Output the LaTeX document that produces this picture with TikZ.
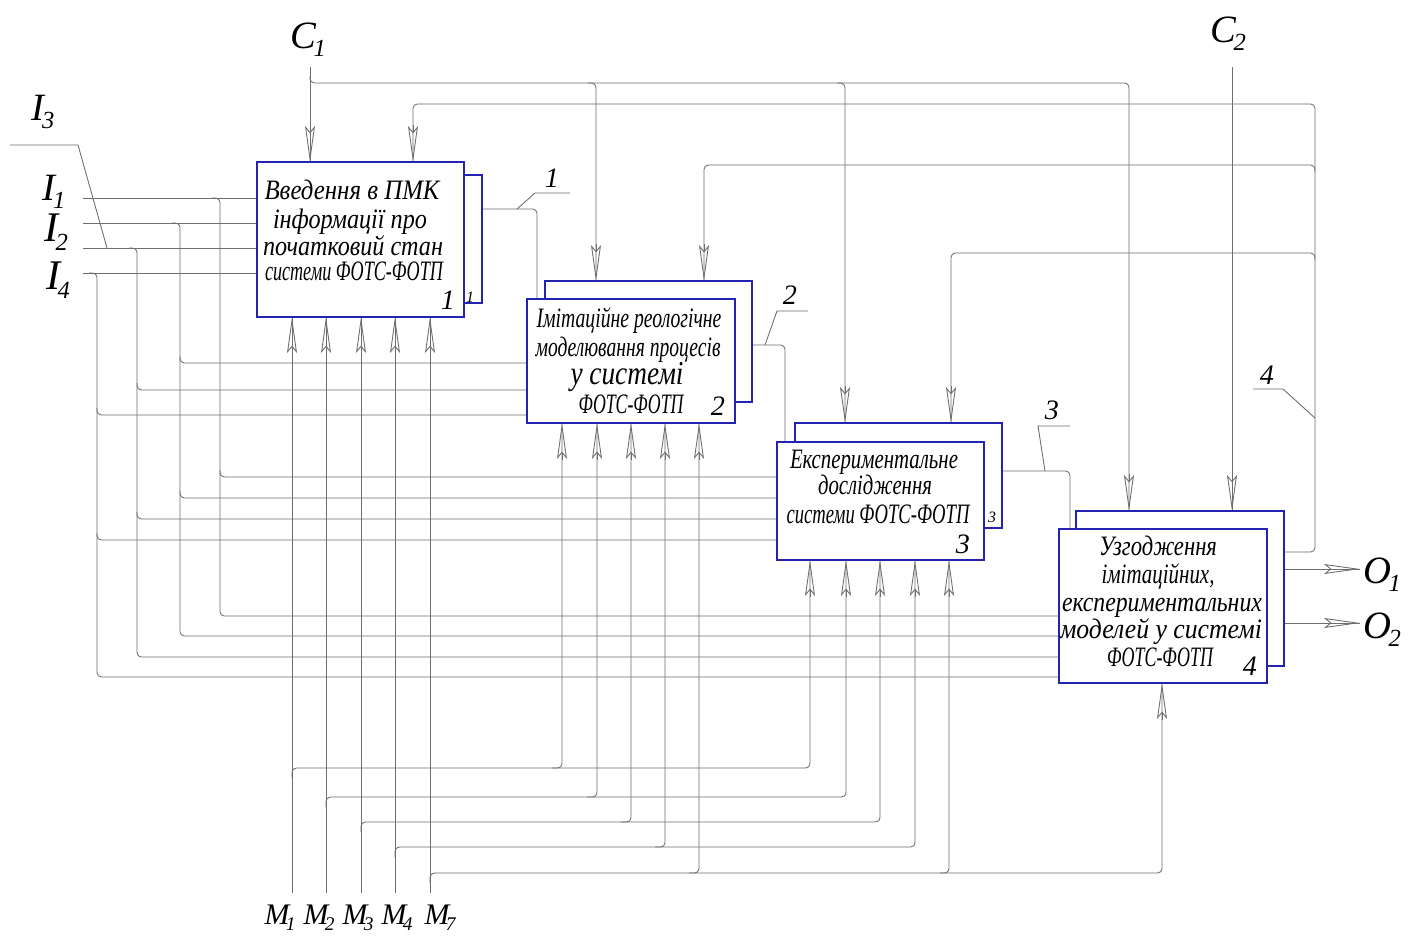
\documentclass[tikz,border=0pt]{standalone}
\usepackage{fontspec}
\setmainfont{Liberation Serif}
\usepackage{graphicx}
\usetikzlibrary{arrows.meta,fit,calc}
\definecolor{boxblue}{RGB}{35,35,175}
\definecolor{wirec}{RGB}{110,110,110}
\newcommand{\sbs}[2]{#1\kern-0.06em\raisebox{-0.45ex}{\fontsize{14}{14}\selectfont #2}}
\newcommand{\sbm}[2]{#1\kern-0.12em\raisebox{-0.45ex}{\fontsize{11}{11}\selectfont #2}}
\newcommand{\fitw}[2]{\resizebox{#1}{\height}{#2}}
\begin{document}
\begin{tikzpicture}[x=0.02cm,y=-0.02cm,
  wire/.style={draw=wirec, line width=0.5pt, rounded corners=2.5pt},
  lead/.style={draw=wirec, line width=0.5pt},
  arr/.style={draw=wirec, line width=0.5pt, -{Stealth[open,length=0.72cm,width=0.2cm,inset=0.12cm]}},
  box/.style={draw=boxblue, line width=1.2pt, fill=white, inner sep=0pt, outer sep=0pt},
  txt/.style={font=\itshape\fontsize{16}{18}\selectfont, anchor=base, inner sep=0pt},
  lbl/.style={font=\itshape\fontsize{22}{24}\selectfont, inner sep=0pt},
  mlbl/.style={font=\itshape\fontsize{17}{18}\selectfont, inner sep=0pt},
  num/.style={font=\itshape\fontsize{16}{17}\selectfont, anchor=base, inner sep=0pt},
  snum/.style={font=\itshape\fontsize{9}{10}\selectfont, anchor=base, inner sep=0pt}]

\fill[white] (0,0) rectangle (1410,944);
\useasboundingbox (0,0) rectangle (1410,944);

% ---------- named points ----------
\coordinate (i1) at (83,198);
\coordinate (i2) at (83,223);
\coordinate (i3) at (83,248);
\coordinate (i4) at (83,273);
\coordinate (c1) at (310,67);
\coordinate (c2) at (1232,67);

% ---------- input lines I ----------
\foreach \n in {1,2,3,4} \draw[wire] (i\n) -- ++(174,0);
% I1 -> boxes 3,4
\draw[wire] (212,198) -- (220,198) -- (220,616) -- (1059,616);
\draw[wire] (220,470) -- (220,477) -- (777,477);
% I2 -> boxes 2,3,4
\draw[wire] (172,223) -- (180,223) -- (180,636) -- (1059,636);
\draw[wire] (180,356) -- (180,363) -- (527,363);
\draw[wire] (180,491) -- (180,498) -- (777,498);
% I3 -> boxes 2,3,4
\draw[wire] (129,248) -- (137,248) -- (137,657) -- (1059,657);
\draw[wire] (137,383) -- (137,390) -- (527,390);
\draw[wire] (137,512) -- (137,519) -- (777,519);
% I4 -> boxes 2,3,4
\draw[wire] (89,273) -- (97,273) -- (97,677) -- (1059,677);
\draw[wire] (97,408) -- (97,415) -- (527,415);
\draw[wire] (97,533) -- (97,540) -- (777,540);

% ---------- controls C ----------
\draw[wire] (c1) -- (310,162);
\draw[wire] (310,76) -- (310,83) -- (1129,83) -- (1129,511);
\draw[wire] (588,83) -- (596,83) -- (596,281);
\draw[wire] (837,83) -- (845,83) -- (845,423);
\draw[wire] (c2) -- (1232,511);

% ---------- feedback from box 4 ----------
\draw[wire] (1284,552) -- (1315,552) -- (1315,104) -- (413,104) -- (413,162);
\draw[wire] (704,281) -- (704,165) -- (1315,165) -- (1315,172);
\draw[wire] (951,423) -- (951,253) -- (1315,253) -- (1315,260);

% ---------- outputs between boxes ----------
\draw[wire] (482,209) -- (537,209) -- (537,299);
\draw[wire] (752,345) -- (785,345) -- (785,442);
\draw[wire] (1002,471) -- (1070,471) -- (1070,529);
\draw[wire] (1284,569) -- (1360,569);
\draw[wire] (1284,623) -- (1360,623);

% ---------- mechanisms M ----------
\foreach \x/\yy/\bx/\by in {292/768/562/810, 326/797/597/846, 361/822/631/880, 395/847/665/915, 430/873/699/949}
{
  \draw[wire] (\x,893) -- (\x,317);
  \draw[wire] (\x,\yy+10) -- (\x,\yy) -- (\by,\yy) -- (\by,560);
  \draw[wire] (\bx-10,\yy) -- (\bx,\yy) -- (\bx,423);
}
\draw[wire] (940,873) -- (1162,873) -- (1162,683);

% ---------- leaders ----------
\draw[lead] (10,145) -- (78,145) -- (107,248);
\draw[lead] (570,193) -- (535,193) -- (517,209);
\draw[lead] (808,311) -- (777,311) -- (765,345);
\draw[lead] (1070,426) -- (1038,426) -- (1045,471);
\draw[lead] (1253,389) -- (1283,389) -- (1315,418);

% ---------- boxes ----------
\node[box, fit={(275,175) (482,303)}] (b1b) {};
\node[box, fit={(257,162) (464,317)}] (b1) {};
\node[box, fit={(545,281) (752,402)}] (b2b) {};
\node[box, fit={(527,299) (735,423)}] (b2) {};
\node[box, fit={(795,423) (1002,528)}] (b3b) {};
\node[box, fit={(777,442) (984,560)}] (b3) {};
\node[box, fit={(1076,511) (1284,666)}] (b4b) {};
\node[box, fit={(1059,529) (1267,683)}] (b4) {};

% ---------- arrowheads ----------
\foreach \x in {292,326,361,395,430} \draw[arr] (\x,354) -- (\x,317);
\foreach \x in {562,597,631,665,699} \draw[arr] (\x,460) -- (\x,423);
\foreach \x in {810,846,880,915,949} \draw[arr] (\x,597) -- (\x,560);
\draw[arr] (1162,720) -- (1162,683);
\foreach \x/\y in {310/162,413/162,596/281,704/281,845/423,951/423,1129/511,1232/511}
  \draw[arr] (\x,\y-37) -- (\x,\y);
\draw[arr] (1322,569) -- (1360,569);
\draw[arr] (1322,623) -- (1360,623);

% ---------- box texts ----------
\node[txt] at (352,199) {\fitw{3.5cm}{Введення в ПМК}};
\node[txt] at (350,228) {\fitw{3.08cm}{інформації про}};
\node[txt] at (353,255) {\fitw{3.6cm}{початковий стан}};
\node[txt] at (354,280) {\fitw{3.56cm}{системи ФОТС-ФОТП}};
\node[num] at (448,309) {1};
\node[snum] at (470,302) {1};

\node[txt] at (629,327) {\fitw{3.7cm}{Імітаційне реологічне}};
\node[txt] at (628,356) {\fitw{3.7cm}{моделювання процесів}};
\node[txt, font=\itshape\fontsize{19}{20}\selectfont] at (627,384) {\fitw{2.26cm}{у системі}};
\node[txt] at (631,413) {\fitw{2.1cm}{ФОТС-ФОТП}};
\node[num] at (718,415) {2};

\node[txt] at (874,468) {\fitw{3.36cm}{Експериментальне}};
\node[txt] at (875,494) {\fitw{2.28cm}{дослідження}};
\node[txt] at (878,523) {\fitw{3.66cm}{системи ФОТС-ФОТП}};
\node[num] at (963,553) {3};
\node[snum] at (992,522) {3};

\node[txt] at (1158,555) {\fitw{2.36cm}{Узгодження}};
\node[txt] at (1158,583) {\fitw{2.26cm}{імітаційних,}};
\node[txt] at (1162,611) {\fitw{4.0cm}{експериментальних}};
\node[txt] at (1161,638) {\fitw{4.04cm}{моделей у системі}};
\node[txt] at (1160,666) {\fitw{2.12cm}{ФОТС-ФОТП}};
\node[num] at (1250,675) {4};

% ---------- labels ----------
\node[lbl] (lc1) at (308,40) {\sbs{C}{1}};
\node[lbl] (lc2) at (1228,34) {\sbs{C}{2}};
\node[lbl] (li3) at (43,112) {\sbs{I}{3}};
\node[lbl] (li1) at (54,192) {\sbs{I}{1}};
\node[lbl, font=\itshape\fontsize{24}{26}\selectfont] (li2) at (56,232) {\sbs{I}{2}};
\node[lbl, font=\itshape\fontsize{24}{26}\selectfont] (li4) at (58,280) {\sbs{I}{4}};
\node[mlbl] (lm1) at (280,918) {\sbm{M}{1}};
\node[mlbl] (lm2) at (319,918) {\sbm{M}{2}};
\node[mlbl] (lm3) at (358,918) {\sbm{M}{3}};
\node[mlbl] (lm4) at (397,918) {\sbm{M}{4}};
\node[mlbl] (lm7) at (440,918) {\sbm{M}{7}};
\node[lbl] (lo1) at (1382,575) {\sbs{O}{1}};
\node[lbl] (lo2) at (1382,630) {\sbs{O}{2}};

\node[num, anchor=center] at (552,178) {1};
\node[num, anchor=center] at (790,295) {2};
\node[num, anchor=center] at (1052,410) {3};
\node[num, anchor=center] at (1267,375) {4};
\end{tikzpicture}
\end{document}
